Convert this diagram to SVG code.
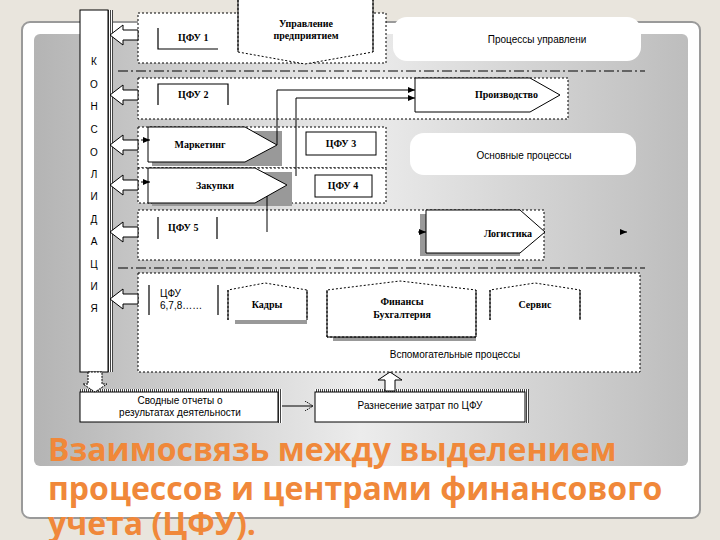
<svg xmlns="http://www.w3.org/2000/svg" width="720" height="540" viewBox="0 0 720 540">
<defs>
<linearGradient id="pg" x1="0" y1="0" x2="1" y2="0"><stop offset="0" stop-color="#b4b4b4"/><stop offset="0.5" stop-color="#ececec"/><stop offset="1" stop-color="#bdbdbd"/></linearGradient>
<pattern id="hatch" width="2" height="2" patternUnits="userSpaceOnUse"><rect width="2" height="2" fill="#fff"/><rect width="1" height="2" fill="#444"/></pattern>
<marker id="ah" markerWidth="8" markerHeight="6" refX="7" refY="3" orient="auto"><path d="M0,0 L7,3 L0,6 Z" fill="#000"/></marker>
<marker id="oa" markerWidth="10" markerHeight="10" refX="8" refY="5" orient="auto"><path d="M0,0 L8,5 L0,10" fill="none" stroke="#000" stroke-dasharray="1.5,1"/></marker>
</defs>
<style>
.box{fill:#fff;stroke:#000;stroke-width:1}
.dbox{fill:#fff;stroke:#000;stroke-width:1;stroke-dasharray:2,2}
.br{fill:none;stroke:#000;stroke-width:1.2}
.b{font-family:"Liberation Serif",serif;font-weight:bold;font-size:10px;fill:#000}
.s{font-family:"Liberation Sans",sans-serif;font-size:10px;fill:#000}
.rnd{fill:#fff;stroke:none}
.sh{fill:#999}
.dd{stroke:#000;stroke-width:1.2;stroke-dasharray:10,3,2,3}
.ln{fill:none;stroke:#000;stroke-width:1}
.t{font-family:"Open Sans",sans-serif;font-weight:bold;font-size:32px;fill:#f0883a}
.la{fill:#fff;stroke:#000;stroke-width:1}
</style>
<rect width="720" height="540" fill="#e9e5dd"/>
<rect x="22" y="22" width="678" height="496" rx="8" fill="#fff" stroke="#9a9a9a" stroke-width="2"/>
<rect x="34" y="34" width="654" height="432" rx="6" fill="url(#pg)"/>

<g id="consolidation">
<rect x="108" y="10" width="5" height="362" fill="url(#hatch)"/>
<rect x="80" y="10" width="28" height="362" class="box"/>
<g class="s" text-anchor="middle" font-size="11">
<text x="94" y="65">К</text><text x="94" y="88">О</text><text x="94" y="110">Н</text><text x="94" y="133">С</text><text x="94" y="156">О</text><text x="94" y="178">Л</text><text x="94" y="200">И</text><text x="94" y="223">Д</text><text x="94" y="245">А</text><text x="94" y="268">Ц</text><text x="94" y="290">И</text><text x="94" y="312">Я</text>
</g>
</g>

<g id="row1">
<rect x="138" y="13" width="248" height="50" class="dbox"/>
<polyline points="158,28 158,49 218,49" class="br"/>
<text x="178" y="41" class="b">ЦФУ 1</text>
<path d="M238,0 V52 L305,64 L373,52 V0" fill="#fff" stroke="#000" stroke-dasharray="2,2"/>
<line x1="238" y1="0" x2="238" y2="52" stroke="#000"/>
<line x1="373" y1="0" x2="373" y2="52" stroke="#000"/>
<text x="306" y="27" class="b" text-anchor="middle">Управление</text>
<text x="306" y="39" class="b" text-anchor="middle">предприятием</text>
</g>
<g id="mgmt"><rect x="393" y="17" width="248" height="44" rx="14" class="rnd"/><text x="537" y="43" class="s" text-anchor="middle" font-size="11">Процессы управлени</text></g>

<g id="row2">
<rect x="138" y="78" width="430" height="41" class="dbox"/>
<polyline points="158,105 158,84 228,84 228,105" class="br"/>
<text x="178" y="98" class="b">ЦФУ 2</text>
<path d="M415,78 H530 L560,95 L530,112 H415 Z" fill="#fff" stroke="#000"/>
<text x="475" y="98" class="b">Производство</text>
</g>

<g id="row3">
<rect x="138" y="127" width="248" height="41" class="dbox"/>
<rect x="152" y="131" width="130" height="35" class="sh"/>
<path d="M148,127 H245 L277,145 L245,162 H148 Z" fill="#fff" stroke="#000"/>
<text x="200" y="148" class="b" text-anchor="middle">Маркетинг</text>
<rect x="306" y="132" width="70" height="23" class="box"/>
<text x="341" y="147" class="b" text-anchor="middle">ЦФУ 3</text>
</g>
<g id="main"><rect x="410" y="133" width="226" height="42" rx="14" class="rnd"/><text x="524" y="159" class="s" text-anchor="middle" font-size="11">Основные процессы</text></g>

<g id="row4">
<rect x="138" y="168" width="248" height="35" class="dbox"/>
<rect x="152" y="172" width="140" height="34" class="sh"/>
<path d="M148,168 H255 L287,185 L255,203 H148 Z" fill="#fff" stroke="#000"/>
<text x="215" y="189" class="b" text-anchor="middle">Закупки</text>
<rect x="315" y="175" width="57" height="22" class="box"/>
<text x="343" y="189" class="b" text-anchor="middle">ЦФУ 4</text>
</g>

<g id="row5">
<rect x="138" y="210" width="406" height="50" class="dbox"/>
<polyline points="158,217 158,239" class="br"/><polyline points="217,217 217,239" class="br"/>
<text x="168" y="231" class="b">ЦФУ 5</text>
<rect x="420" y="214" width="100" height="42" class="sh"/>
<path d="M426,210 H520 L545,232 L520,253 H426 Z" fill="#fff" stroke="#000"/>
<text x="508" y="237" class="b" text-anchor="middle">Логистика</text>
</g>

<g id="row6">
<rect x="138" y="273" width="502" height="99" class="dbox"/>
<line x1="149" y1="285" x2="149" y2="315" class="br"/><line x1="218" y1="285" x2="218" y2="315" class="br"/>
<text x="160" y="297" class="s">ЦФУ</text>
<text x="160" y="309" class="s">6,7,8……</text>
<rect x="235" y="292" width="72" height="32" class="sh"/>
<path d="M228,320 V290 L265,283 L307,290 V320" fill="#fff" stroke="#000" stroke-dasharray="2,2"/>
<path d="M228,290 V320 M307,290 V320" stroke="#000"/>
<text x="267" y="308" class="b" text-anchor="middle">Кадры</text>
<rect x="333" y="292" width="143" height="49" class="sh"/>
<path d="M327,337 V290 L400,281 L476,290 V337 Z" fill="#fff" stroke="#000" stroke-dasharray="2,2"/>
<path d="M327,290 V337 H476 V290" fill="none" stroke="#000"/>
<text x="402" y="305" class="b" text-anchor="middle">Финансы</text>
<text x="402" y="318" class="b" text-anchor="middle">Бухгалтерия</text>
<rect x="495" y="292" width="82" height="28" class="sh"/>
<path d="M490,320 V290 L535,283 L580,290 V320" fill="#fff" stroke="#000" stroke-dasharray="2,2"/>
<path d="M490,290 V320 M580,290 V320" stroke="#000"/>
<text x="535" y="308" class="b" text-anchor="middle">Сервис</text>
<text x="455" y="358" class="s" text-anchor="middle" font-size="11">Вспомогательные процессы</text>
</g>

<g id="reports">
<rect x="80" y="389" width="198" height="4" fill="url(#hatch)"/>
<rect x="278" y="389" width="4" height="34" fill="url(#hatch)"/>
<rect x="80" y="392" width="198" height="30" class="box"/>
<text x="180" y="404" class="s" text-anchor="middle">Сводные отчеты о</text>
<text x="180" y="416" class="s" text-anchor="middle">результатах деятельности</text>
</g>
<g id="allocation">
<rect x="315" y="389" width="210" height="4" fill="url(#hatch)"/>
<rect x="525" y="389" width="4" height="34" fill="url(#hatch)"/>
<rect x="315" y="392" width="210" height="30" class="box"/>
<text x="420" y="409" class="s" text-anchor="middle">Разнесение затрат по ЦФУ</text>
</g>

<g id="connectors">
<line x1="118" y1="71" x2="645" y2="71" class="dd"/>
<line x1="118" y1="268" x2="645" y2="268" class="dd"/>
<g>
<path d="M138,30 H123 V25 L110,35 L123,45 V40 H138 Z" class="la"/>
<path d="M138,90 H123 V85 L110,95 L123,105 V100 H138 Z" class="la"/>
<path d="M138,140 H123 V135 L110,145 L123,155 V150 H138 Z" class="la"/>
<path d="M138,180 H123 V175 L110,185 L123,195 V190 H138 Z" class="la"/>
<path d="M138,227 H123 V222 L110,232 L123,242 V237 H138 Z" class="la"/>
<path d="M138,294 H123 V289 L110,299 L123,309 V304 H138 Z" class="la"/>
</g>
<polyline points="277,145 277,90 415,90" class="ln" marker-end="url(#ah)"/>
<polyline points="296,176 296,98 415,98" class="ln" marker-end="url(#ah)"/>
<line x1="267" y1="196" x2="267" y2="232" class="ln"/>
<line x1="141" y1="140" x2="150" y2="140" class="ln" marker-end="url(#ah)"/>
<line x1="141" y1="182" x2="150" y2="182" class="ln" marker-end="url(#ah)"/>
<line x1="418" y1="232" x2="426" y2="232" class="ln" marker-end="url(#ah)"/>
<line x1="620" y1="232" x2="627" y2="232" class="ln" marker-end="url(#ah)"/>
<line x1="282" y1="406" x2="313" y2="406" class="ln" marker-end="url(#oa)"/>
<path d="M88,372 V384 H83 L95,392 L107,384 H102 V372 Z" class="la" stroke-dasharray="2,1"/>
<path d="M385,391 V380 H378 L390,372 L402,380 H395 V391 Z" class="la"/>
</g>

<g id="title">
<text x="48" y="461" class="t">Взаимосвязь между выделением</text>
<text x="48" y="500" class="t">процессов и центрами финансового</text>
<text x="48" y="535" class="t">учета (ЦФУ).</text>
</g>
</svg>
